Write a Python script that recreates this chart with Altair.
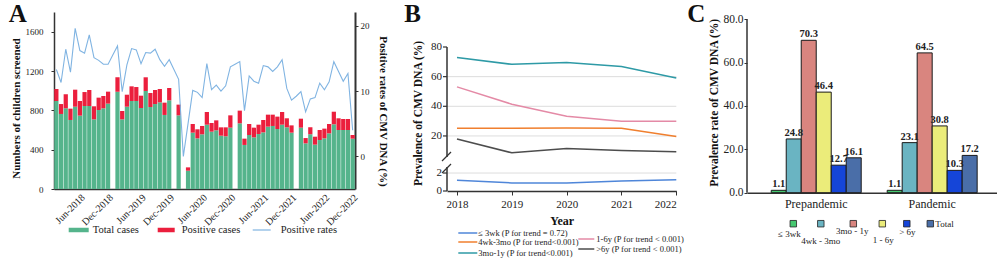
import altair as alt
import pandas as pd

FONT = "Liberation Serif"

# ---------------- Panel A data ----------------
month_names = ["Jan", "Feb", "Mar", "Apr", "May", "Jun",
               "Jul", "Aug", "Sep", "Oct", "Nov", "Dec"]
a_years = [2018, 2019, 2020, 2021, 2022]
a_slots = []
for i, yr in enumerate(a_years):
    a_slots += [f"{m}-{yr}" for m in month_names]
    if i < len(a_years) - 1:
        a_slots.append(f"gap-{yr}")

a_tick_labels = ["Jun-2018", "Dec-2018", "Jun-2019", "Dec-2019", "Jun-2020",
                 "Dec-2020", "Jun-2021", "Dec-2021", "Jun-2022", "Dec-2022"]

bar_months = [s for s in a_slots if not s.startswith("gap") and s != "Feb-2020"]

total_cases = [895, 763, 820, 702, 837, 746, 844, 844, 708, 803, 820, 868,
               990, 708, 837, 895, 895, 824, 997, 834, 864, 881, 753, 902,
               749, 186, 573, 515, 556, 654, 583, 597, 542, 536, 624,
               668, 448, 549, 525, 559, 576, 634, 641, 610, 654, 627, 573,
               624, 464, 556, 451, 498, 515, 566, 658, 600, 600, 600, 512]
positive_cases = [122, 101, 143, 115, 173, 149, 142, 163, 133, 126, 126, 122,
                  146, 85, 122, 149, 142, 125, 139, 142, 143, 136, 125, 125,
                  109, 34, 88, 92, 85, 129, 88, 101, 85, 91, 125,
                  129, 64, 112, 99, 95, 126, 122, 115, 126, 129, 92, 74,
                  91, 54, 71, 81, 102, 99, 95, 128, 119, 112, 112, 37]
positive_rates = [13.3, 11.3, 16.4, 12.9, 19.6, 16.2, 15.8, 18.6, 15.1, 14.7, 14.1, 14.1,
                  15.5,
                  16.9, 9.9, 14.0, 16.5, 16.3, 14.2, 15.9, 15.8, 16.4, 14.8, 13.8, 14.8,
                  13.3,
                  11.8, 0.0, 5.0, 10.1, 9.8, 9.0, 14.2, 10.2, 10.9, 10.0, 10.8, 13.7,
                  14.1,
                  14.5, 7.0, 12.3, 11.5, 11.2, 13.9, 13.7, 13.0, 13.7, 14.8, 10.4, 8.6,
                  9.2,
                  9.9, 6.8, 8.8, 9.0, 11.2, 10.2, 11.4, 14.5, 13.0, 11.5, 12.7, 4.0]

# ---------------- Panel B data ----------------
b_years = [2018, 2019, 2020, 2021, 2022]
b_groups = ["≤ 3wk", "4wk-3mo", "3mo-1y", "1-6y", ">6y"]
b_le3wk = [1.2, 0.9, 0.9, 1.1, 1.25]
b_4wk3mo = [25.2, 25.2, 25.4, 25.2, 19.6]
b_3mo1y = [72.9, 68.3, 69.5, 66.8, 59.1]
b_1y6y = [53.1, 41.4, 33.3, 29.9, 29.9]
b_gt6y = [18.0, 8.6, 11.5, 10.2, 9.3]
b_yticks = [0, 2, 20, 40, 60, 80]
b_legend_text = ["≤ 3wk (P for trend = 0.72)", "4wk-3mo (P for trend<0.001)",
                 "3mo-1y (P for trend<0.001)", "1-6y (P for trend < 0.001)",
                 ">6y (P for trend < 0.001)"]

# ---------------- Panel C data ----------------
c_periods = ["Prepandemic", "Pandemic"]
c_groups = ["≤ 3wk", "4wk - 3mo", "3mo - 1y", "1 - 6y", "> 6y", "Total"]
c_prepandemic = [1.1, 24.8, 70.3, 46.4, 12.7, 16.1]
c_pandemic = [1.1, 23.1, 64.5, 30.8, 10.3, 17.2]

# ---------------- styles ----------------
GREEN, RED, LBLUE = "#55b48c", "#eb1f3d", "#80b4e2"
B_COLORS = ["#4f86d9", "#f07f2e", "#2e9aa6", "#e48aa6", "#4d4d4d"]
C_COLORS = ["#46c870", "#6ab4c2", "#d9857f", "#ebec7a", "#1545d8", "#4a6ea8"]
AXC = "#333333"


def one(**kw):
    return alt.Chart(pd.DataFrame(kw if kw else {"k": [0]}))


def letter(t, x, opacity=1):
    return one(t=[t]).mark_text(font=FONT, fontSize=25, fontWeight="bold", align="left",
                                baseline="alphabetic", color="#111", opacity=opacity).encode(
        x=alt.value(x), y=alt.value(10), text="t:N")


def hline(x1, x2, y, color, w):
    return one().mark_rule(color=color, strokeWidth=w).encode(
        x=alt.value(x1), x2=alt.value(x2), y=alt.value(y))


def label(t, x, y, size, align="left", color="#222"):
    return one(t=[t]).mark_text(font=FONT, fontSize=size, align=align, baseline="middle",
                                color=color).encode(x=alt.value(x), y=alt.value(y), text="t:N")


# ================= Panel A =================
dfa = pd.DataFrame({"slot": bar_months, "total": total_cases, "pos": positive_cases})
dfa["top"] = dfa["total"] + dfa["pos"]
dfr = pd.DataFrame({"slot": a_slots, "rate": positive_rates})

xa = alt.X("slot:N", sort=a_slots, title=None,
           scale=alt.Scale(domain=a_slots, paddingInner=0.1, paddingOuter=0.05),
           axis=alt.Axis(values=a_tick_labels, labelAngle=-45, labelAlign="right",
                         labelBaseline="top", labelFontSize=10, ticks=False, labelPadding=3,
                         domainColor=AXC, domainWidth=1.5))
left_axis = alt.Axis(title="Numbers of children screened", values=[0, 400, 800, 1200, 1600],
                     format="d", grid=False, labelFontSize=9, titleFontSize=11,
                     titleFontWeight="bold", tickSize=3, labelPadding=8, titlePadding=4,
                     titleY=96, domainColor=AXC, domainWidth=1.5, tickColor=AXC)
right_axis = alt.Axis(title="Positive rates of CMV DNA (%)", orient="right", values=[0, 10, 20],
                      grid=False, labelFontSize=9, titleFontSize=11, titleFontWeight="bold",
                      tickSize=3, labelPadding=2, titlePadding=8, titleY=99, domainColor=AXC,
                      domainWidth=2, tickColor=AXC)

ya = alt.Y("total:Q", scale=alt.Scale(domain=[0, 1800], nice=False), axis=left_axis)
green = alt.Chart(dfa).mark_bar(color=GREEN).encode(x=xa, y=ya)
red = alt.Chart(dfa).mark_bar(color=RED).encode(x=xa, y=ya, y2="top:Q")
bars_a = alt.layer(green, red)
rate = alt.Chart(dfr).mark_line(color=LBLUE, strokeWidth=1.1).encode(
    x=xa, y=alt.Y("rate:Q", scale=alt.Scale(domain=[-5, 22.1], nice=False, zero=False),
                  axis=right_axis))

a_deco = [
    letter("A", -45.3),
    hline(14.7, 34.7, 218, GREEN, 4.5), label("Total cases", 38.7, 218, 10.5),
    hline(103.7, 120.7, 218, RED, 4.5), label("Positive cases", 127.7, 218, 10.5),
    hline(198.7, 216.7, 218, LBLUE, 1.2), label("Positive rates", 226.7, 218, 10.5),
    one().mark_rule(opacity=0).encode(x=alt.value(335), x2=alt.value(347.7), y=alt.value(50)),
]
panel_a = alt.layer(bars_a, rate, *a_deco).resolve_scale(y="independent").properties(
    width=301, height=177)

# ================= Panel B =================
rows = []
for g, vals in zip(b_groups, [b_le3wk, b_4wk3mo, b_3mo1y, b_1y6y, b_gt6y]):
    for yr, v in zip(b_years, vals):
        rows.append({"year": yr, "group": g, "value": v})
dfb = pd.DataFrame(rows)

BW, BH = 229.3, 179
yb_scale = alt.Scale(domain=[0, 2.67, 5.8, 80, 103.4], range=[179, 155, 145, 35, 0],
                     nice=False, zero=False)
xb_scale = alt.Scale(domain=[2017.818, 2022], nice=False, zero=False)

b_lines = alt.Chart(dfb).mark_line(strokeWidth=1.5).encode(
    x=alt.X("year:Q", scale=xb_scale,
            axis=alt.Axis(values=b_years, format="d", title="Year", titleFontSize=12,
                          titleFontWeight="bold", labelFontSize=11, tickSize=4, labelPadding=3,
                          titlePadding=6, domainColor=AXC, domainWidth=1.5, tickColor=AXC,
                          grid=False)),
    y=alt.Y("value:Q", scale=yb_scale,
            axis=alt.Axis(title="Prevalence of CMV DNA (%)", labels=False, ticks=False,
                          titleFontSize=11.5, titleFontWeight="bold", titlePadding=24,
                          titleY=101, domain=False, grid=False)),
    color=alt.Color("group:N", scale=alt.Scale(domain=b_groups, range=B_COLORS), legend=None),
)
b_grid = alt.Chart(pd.DataFrame({"g": [2, 20, 40, 60]})).mark_rule(
    color="#dddddd", strokeWidth=1).encode(y=alt.Y("g:Q", scale=yb_scale), x=alt.value(0),
                                           x2=alt.value(BW))
b_axis = alt.Chart(pd.DataFrame({"a": [0, 5.8], "b": [2.67, 80]})).mark_rule(
    color=AXC, strokeWidth=1.5).encode(y=alt.Y("a:Q", scale=yb_scale), y2="b:Q",
                                       x=alt.value(0))
dft = pd.DataFrame({"v": b_yticks})
b_ticks = alt.Chart(dft).mark_rule(color=AXC, strokeWidth=1.2).encode(
    y=alt.Y("v:Q", scale=yb_scale), x=alt.value(-4), x2=alt.value(0))
b_tlabels = alt.Chart(dft).mark_text(font=FONT, fontSize=11, align="right", baseline="middle",
                                     color="#222").encode(
    y=alt.Y("v:Q", scale=yb_scale), x=alt.value(-5), text="v:Q")
b_breaks = [
    one().mark_rule(color=AXC, strokeWidth=1.2).encode(
        x=alt.value(-5), x2=alt.value(4), y=alt.value(149), y2=alt.value(140)),
    one().mark_rule(color=AXC, strokeWidth=1.2).encode(
        x=alt.value(-5), x2=alt.value(4), y=alt.value(161), y2=alt.value(152)),
]
b_leg = []
b_pos = [(11.3, 30.3, 31.3, 221), (11.3, 30.3, 31.3, 230), (11.3, 30.3, 31.3, 241),
         (131.3, 147.3, 149.3, 227), (131.3, 147.3, 149.3, 237)]
for (x1, x2, tx, yy), col, txt in zip(b_pos, B_COLORS, b_legend_text):
    b_leg += [hline(x1, x2, yy, col, 1.5), label(txt, tx, yy, 8.5)]

panel_b = alt.layer(b_grid, b_axis, b_ticks, b_tlabels, b_lines, *b_breaks, *b_leg,
                    letter("B", -42.7), letter("C", 240.3)).properties(width=BW, height=BH)

# ================= Panel C =================
rows = []
for p, vals in zip(c_periods, [c_prepandemic, c_pandemic]):
    for g, v in zip(c_groups, vals):
        rows.append({"period": p, "group": g, "value": v})
dfc = pd.DataFrame(rows)
CW, CH = 250, 180.7
yc_scale = alt.Scale(domain=[0, 83.36], nice=False)
xc = alt.X("period:N", sort=c_periods, title=None,
           scale=alt.Scale(domain=c_periods, paddingInner=0.224, paddingOuter=0.19, align=0.55),
           axis=alt.Axis(labelAngle=0, labelFontSize=12, ticks=False, labelPadding=6,
                         domainColor=AXC, domainWidth=1.5))
xoff = alt.XOffset("group:N", sort=c_groups, scale=alt.Scale(domain=c_groups))
c_bars = alt.Chart(dfc).mark_bar(stroke="#1a1a1a", strokeWidth=1).encode(
    x=xc, xOffset=xoff,
    y=alt.Y("value:Q", scale=yc_scale,
            axis=alt.Axis(values=[0, 20, 40, 60, 80], format=".1f",
                          title="Prevalence rate of CMV DNA (%)", titleFontSize=11.5,
                          titleFontWeight="bold", labelFontSize=11.5, tickSize=3,
                          labelPadding=1, titlePadding=3, domain=False, tickColor=AXC,
                          grid=False)),
    color=alt.Color("group:N", scale=alt.Scale(domain=c_groups, range=C_COLORS), legend=None),
)
c_text = alt.Chart(dfc).mark_text(font=FONT, fontSize=10.5, fontWeight="bold",
                                  baseline="alphabetic", dy=-3, color="#222").encode(
    x=xc, xOffset=xoff, y=alt.Y("value:Q", scale=yc_scale), text=alt.Text("value:Q", format=".1f"))
c_axis = alt.Chart(pd.DataFrame({"a": [0], "b": [80]})).mark_rule(
    color=AXC, strokeWidth=1.5).encode(y=alt.Y("a:Q", scale=yc_scale), y2="b:Q", x=alt.value(0))

c_sq_x = [46.3, 73.8, 106.3, 135.3, 159.8, 183.3]
c_lab_pos = [(42.3, 222, "center"), (73.8, 229, "center"), (105.3, 219, "center"),
             (136.3, 228, "center"), (160.3, 220, "center"), (188.3, 212, "left")]
c_leg = []
for sx, (lx, ly, al), col, g in zip(c_sq_x, c_lab_pos, C_COLORS, c_groups):
    c_leg.append(one().mark_point(shape="square", size=42, filled=True, color=col,
                                  stroke="#222", strokeWidth=0.8, opacity=1).encode(
        x=alt.value(sx), y=alt.value(211.7)))
    c_leg.append(label(g, lx, ly, 9, align=al))
panel_c = alt.layer(c_axis, c_bars, c_text, *c_leg, letter("C", 10, opacity=0)).properties(
    width=CW, height=CH)

chart = alt.hconcat(panel_a, panel_b, panel_c, spacing=2).resolve_scale(
    color="independent").properties(
    padding={"left": 8, "top": 2, "right": 0, "bottom": 0}
).configure_view(stroke=None).configure_axis(
    labelFont=FONT, titleFont=FONT, labelColor="#222", titleColor="#111"
).configure_text(font=FONT)

chart.save("out.html", embed_options={"renderer": "svg", "actions": False})
